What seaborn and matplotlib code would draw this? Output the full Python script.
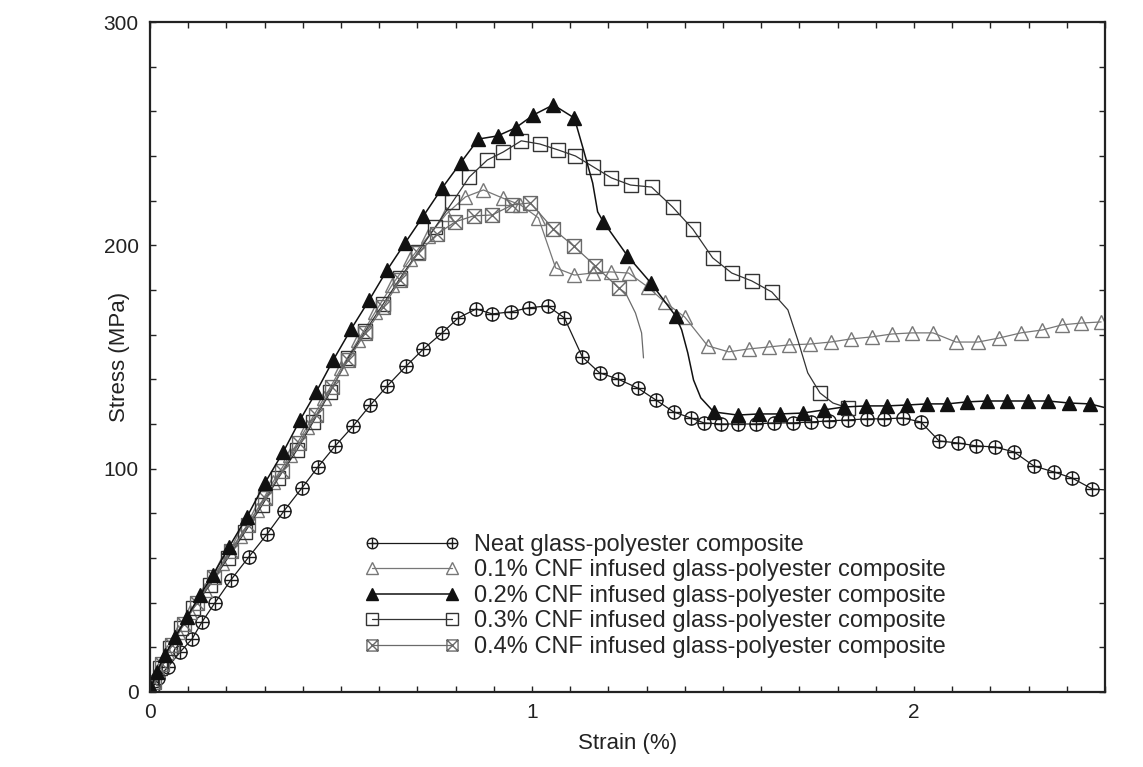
import matplotlib
matplotlib.use("Agg")
import matplotlib.pyplot as plt
from matplotlib.path import Path
from matplotlib.lines import Line2D
from matplotlib.legend_handler import HandlerLine2D
from matplotlib.ticker import MultipleLocator
import seaborn as sns

# strain (%) / stress (MPa)
neat_x = [0.008, 0.021, 0.047, 0.079, 0.110, 0.136, 0.170, 0.212, 0.259, 0.307, 0.351, 0.398,
          0.440, 0.485, 0.532, 0.577, 0.621, 0.671, 0.716, 0.765, 0.807, 0.854, 0.896, 0.944,
          0.991, 1.041, 1.085, 1.132, 1.177, 1.224, 1.277, 1.324, 1.371, 1.416, 1.450, 1.494,
          1.539, 1.586, 1.633, 1.683, 1.730, 1.777, 1.827, 1.877, 1.921, 1.971, 2.018, 2.066,
          2.115, 2.163, 2.212, 2.262, 2.314, 2.367, 2.414, 2.467, 2.500]
neat_y = [2.2, 6.3, 11.2, 17.9, 23.7, 31.3, 39.9, 50.2, 60.5, 70.8, 81.1, 91.4,
          100.8, 110.2, 119.1, 128.5, 137.0, 146.0, 153.6, 160.8, 167.5, 171.5, 169.3, 170.2,
          172.0, 172.9, 167.5, 150.0, 142.9, 140.2, 136.1, 130.8, 125.4, 122.7, 120.5, 120.0,
          120.0, 120.0, 120.5, 120.5, 120.9, 121.4, 121.8, 122.3, 122.3, 122.7, 120.9, 112.4,
          111.5, 110.2, 109.7, 107.5, 101.2, 98.5, 95.8, 90.9, 90.5]
neat_plain = [56]

cnf1_x = [0.003, 0.021, 0.045, 0.073, 0.105, 0.144, 0.189, 0.236, 0.280, 0.322, 0.367, 0.411,
          0.456, 0.501, 0.545, 0.590, 0.634, 0.682, 0.729, 0.776, 0.826, 0.873, 0.923, 0.970,
          1.017, 1.062, 1.111, 1.159, 1.206, 1.253, 1.303, 1.347, 1.400, 1.460, 1.515, 1.567,
          1.620, 1.672, 1.727, 1.782, 1.835, 1.890, 1.942, 1.995, 2.050, 2.110, 2.168, 2.223,
          2.280, 2.336, 2.388, 2.438, 2.490]
cnf1_y = [1.8, 9.9, 17.9, 26.9, 35.8, 45.7, 57.8, 69.9, 81.5, 94.0, 106.1, 118.7,
          131.7, 145.1, 157.6, 170.2, 182.3, 193.9, 204.2, 214.1, 221.7, 224.8, 221.2, 218.1,
          212.3, 189.9, 186.7, 187.6, 188.1, 187.6, 181.4, 174.7, 167.9, 155.0, 152.3, 153.6,
          154.5, 155.4, 155.8, 156.7, 158.1, 159.0, 160.3, 160.8, 160.8, 156.7, 156.7, 158.5,
          160.8, 162.1, 164.4, 165.2, 165.7]
cnf1_plain = []

cnf2_x = [0.003, 0.018, 0.039, 0.066, 0.097, 0.131, 0.165, 0.207, 0.254, 0.301, 0.349, 0.393,
          0.435, 0.480, 0.527, 0.574, 0.621, 0.668, 0.716, 0.765, 0.813, 0.860, 0.910, 0.957,
          1.004, 1.056, 1.111, 1.135, 1.159, 1.172, 1.187, 1.250, 1.311, 1.376, 1.392, 1.408,
          1.423, 1.442, 1.476, 1.539, 1.594, 1.649, 1.709, 1.764, 1.816, 1.874, 1.929, 1.982,
          2.034, 2.087, 2.139, 2.191, 2.244, 2.299, 2.351, 2.406, 2.461, 2.503]
cnf2_y = [1.8, 9.0, 16.6, 24.6, 33.6, 43.4, 52.4, 64.9, 78.4, 93.6, 107.5, 121.8,
          134.3, 148.7, 162.6, 175.5, 189.0, 201.1, 213.2, 225.7, 236.9, 247.6, 249.0, 252.6,
          258.4, 262.9, 257.0, 242.7, 227.9, 215.0, 210.5, 195.3, 183.2, 168.4, 162.1, 151.8,
          139.7, 131.7, 125.4, 124.0, 124.5, 124.5, 124.9, 126.3, 127.6, 128.1, 128.1, 128.5,
          129.0, 129.0, 129.9, 130.3, 130.3, 130.3, 130.3, 129.4, 129.0, 127.2]
cnf2_plain = [27, 28, 29, 34, 35, 36, 37, 57]

cnf3_x = [0.005, 0.026, 0.052, 0.081, 0.113, 0.157, 0.204, 0.249, 0.294, 0.336, 0.385, 0.427,
          0.472, 0.519, 0.564, 0.611, 0.655, 0.702, 0.747, 0.792, 0.836, 0.883, 0.925, 0.972,
          1.020, 1.069, 1.114, 1.161, 1.208, 1.258, 1.313, 1.368, 1.421, 1.473, 1.523, 1.575,
          1.628, 1.670, 1.696, 1.722, 1.754, 1.788, 1.827]
cnf3_y = [2.7, 10.7, 19.7, 28.7, 37.6, 47.9, 60.0, 71.7, 83.7, 95.8, 108.4, 120.9,
          134.3, 149.6, 161.7, 173.8, 185.4, 197.0, 208.2, 219.4, 230.6, 238.2, 241.8, 246.8,
          245.4, 242.7, 240.0, 235.1, 230.2, 227.0, 226.1, 217.2, 207.3, 194.4, 187.6, 184.1,
          179.1, 171.1, 157.6, 142.9, 133.9, 129.4, 127.2]
cnf3_plain = [37, 38, 39, 41]

cnf4_x = [0.010, 0.031, 0.058, 0.089, 0.123, 0.168, 0.212, 0.257, 0.301, 0.346, 0.391, 0.435,
          0.477, 0.519, 0.564, 0.611, 0.655, 0.702, 0.752, 0.799, 0.847, 0.896, 0.949, 0.996,
          1.056, 1.109, 1.166, 1.227, 1.245, 1.271, 1.287, 1.292]
cnf4_y = [4.5, 12.5, 21.0, 30.5, 39.9, 51.5, 63.1, 74.8, 86.9, 99.0, 111.5, 124.0,
          136.6, 148.7, 160.8, 172.4, 184.5, 196.6, 205.1, 210.5, 213.2, 213.6, 218.1, 219.0,
          207.3, 199.7, 190.8, 180.9, 178.7, 169.7, 160.8, 149.6]
cnf4_plain = [28, 29, 30, 31]

labels = ["Neat glass-polyester composite",
          "0.1% CNF infused glass-polyester composite",
          "0.2% CNF infused glass-polyester composite",
          "0.3% CNF infused glass-polyester composite",
          "0.4% CNF infused glass-polyester composite"]

# marker shapes: crossed circle and boxed x
MV, LT = Path.MOVETO, Path.LINETO
oplus = Path.make_compound_path(
    Path.unit_circle(),
    Path([(-1, 0), (1, 0), (0, -1), (0, 1)], [MV, LT, MV, LT]))
boxx = Path.make_compound_path(
    Path([(-1, -1), (1, -1), (1, 1), (-1, 1), (-1, -1)], [MV, LT, LT, LT, Path.CLOSEPOLY]),
    Path([(-1, -1), (1, 1), (-1, 1), (1, -1)], [MV, LT, MV, LT]))

sns.set_style("ticks")
plt.rcParams['font.family'] = ['Liberation Sans', 'DejaVu Sans']

fig = plt.figure(figsize=(11.43, 7.67), dpi=100)
ax = fig.add_axes([0.1312, 0.0978, 0.8355, 0.8735])

series = [
    (neat_x, neat_y, neat_plain, oplus, 9.5, "#1a1a1a", "none", 0.9),
    (cnf1_x, cnf1_y, cnf1_plain, "^", 10, "#777777", "none", 0.9),
    (cnf3_x, cnf3_y, cnf3_plain, "s", 10, "#333333", "none", 0.9),
    (cnf4_x, cnf4_y, cnf4_plain, boxx, 10, "#6a6a6a", "none", 0.9),
    (cnf2_x, cnf2_y, cnf2_plain, "^", 10, "#111111", "#111111", 1.1),
]
order = [0, 1, 3, 4, 2]  # series index -> label index

handles = {}
for (xs, ys, plain, mk, ms, col, face, lw), li in zip(series, order):
    marked = [i for i in range(len(xs)) if i not in plain]
    sns.lineplot(x=xs, y=ys, ax=ax, sort=False, estimator=None, legend=False,
                 color=col, linewidth=lw, marker=mk, markersize=ms,
                 markerfacecolor=face, markeredgecolor=col, markeredgewidth=1.0,
                 markevery=marked)
    handles[li] = Line2D([0], [0], color=col, linewidth=lw, marker=mk, markersize=ms * 0.8,
                         markerfacecolor=face, markeredgecolor=col, markeredgewidth=1.0)

ax.set_xlim(0, 2.5)
ax.set_ylim(0, 300)
ax.xaxis.set_major_locator(MultipleLocator(1))
ax.xaxis.set_minor_locator(MultipleLocator(0.1))
ax.yaxis.set_major_locator(MultipleLocator(100))
ax.yaxis.set_minor_locator(MultipleLocator(20))
ax.tick_params(which="both", direction="in", top=True, right=True, length=4, width=1,
               color="#222222", labelsize=15, labelcolor="#222222", pad=8)
for sp in ax.spines.values():
    sp.set_linewidth(1.6)
    sp.set_color("#222222")

ax.set_xlabel("Strain (%)", fontsize=16, color="#222222", labelpad=8)
ax.set_ylabel("Stress (MPa)", fontsize=16, color="#222222")
ax.yaxis.set_label_coords(-0.021, 0.5)

ax.legend([handles[i] for i in range(5)], labels, loc="upper left",
          bbox_to_anchor=(0.2325, 0.236), frameon=False, fontsize=17,
          handlelength=3.4, handletextpad=0.9, labelspacing=0.15,
          borderpad=0, borderaxespad=0, numpoints=2,
          handler_map={Line2D: HandlerLine2D(marker_pad=0)})

fig.savefig("out.png", dpi=100)
